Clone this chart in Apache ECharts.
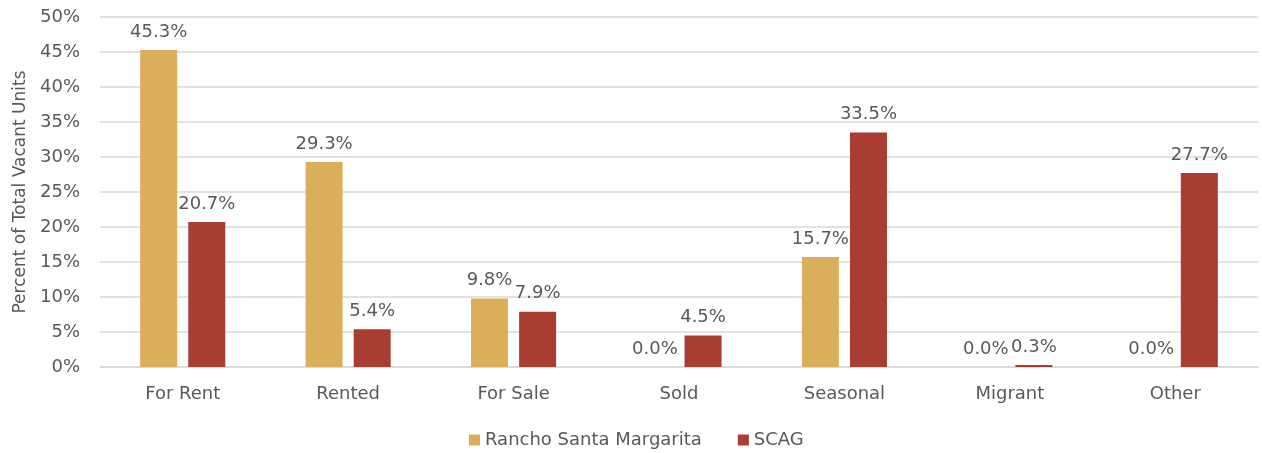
<!DOCTYPE html>
<html><head><meta charset="utf-8">
<script src="https://cdn.jsdelivr.net/npm/echarts@6/dist/echarts.min.js"></script>
<style>html,body{margin:0;padding:0;background:#fff}#c{width:1262px;height:453px}</style>
</head><body><div id="c"></div>
<script>
const categories = ['For Rent','Rented','For Sale','Sold','Seasonal','Migrant','Other'];
const rsmValues = [45.3, 29.3, 9.8, 0.0, 15.7, 0.0, 0.0];
const scagValues = [20.7, 5.4, 7.9, 4.5, 33.5, 0.3, 27.7];
const seriesNames = ['Rancho Santa Margarita', 'SCAG'];
const FONT = '"DejaVu Sans", "Liberation Sans", sans-serif';
const TXT = '#595959';
const chart = echarts.init(document.getElementById('c'));
const lbl = {show:true, position:'top', distance:9, color:TXT, fontSize:18, fontFamily:FONT, formatter: p => p.value.toFixed(1) + '%'};
chart.setOption({
  animation:false,
  textStyle:{fontFamily:FONT},
  grid:{left:100, right:4, top:17, bottom:86, containLabel:false},
  legend:{bottom:-1, left:464, itemWidth:11, itemHeight:11, itemGap:36, icon:'rect',
    textStyle:{color:TXT, fontSize:18, fontFamily:FONT}, data:seriesNames},
  xAxis:{type:'category', data:categories,
    axisLine:{lineStyle:{color:'#d9d9d9', width:1.5}}, axisTick:{show:false},
    axisLabel:{color:TXT, fontSize:18, fontFamily:FONT, margin:18}},
  yAxis:{type:'value', min:0, max:50, interval:5,
    name:'Percent of Total Vacant Units', nameLocation:'middle', nameGap:71,
    nameTextStyle:{color:TXT, fontSize:17, fontFamily:FONT},
    axisLine:{show:false}, axisTick:{show:false},
    splitLine:{lineStyle:{color:'#d9d9d9', width:1.5}},
    axisLabel:{color:TXT, fontSize:18, fontFamily:FONT, margin:20, formatter: v => v + '%'}},
  series:[
    {name:seriesNames[0], type:'bar', data:rsmValues, barWidth:37, barGap:'30%',
     itemStyle:{color:'#dbaf5a'}, label:lbl},
    {name:seriesNames[1], type:'bar', data:scagValues, barWidth:37,
     itemStyle:{color:'#a93d32'}, label:lbl}
  ]
});
</script></body></html>
